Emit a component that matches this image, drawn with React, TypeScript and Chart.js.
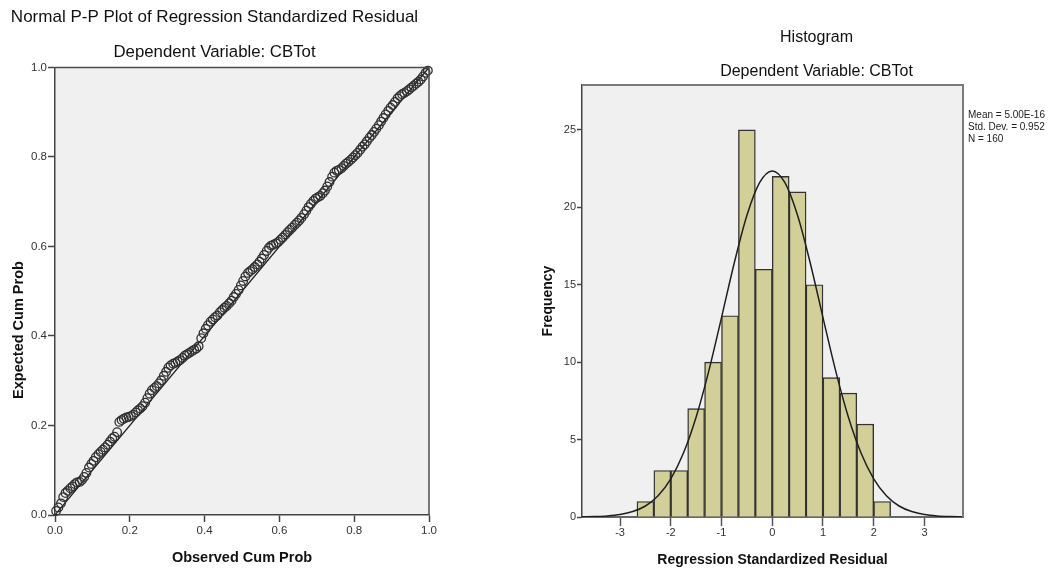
import React, { useEffect, useRef } from "react";
import { Chart, registerables } from "chart.js";

Chart.register(...registerables);

const FONT = '"Liberation Sans", Arial, Helvetica, sans-serif';

// ---------- P-P plot data ----------
const observedCumProb = [
  0.003, 0.009, 0.016, 0.022, 0.028, 0.034, 0.041, 0.047, 0.053, 0.059,
  0.066, 0.072, 0.078, 0.084, 0.091, 0.097, 0.103, 0.109, 0.116, 0.122,
  0.128, 0.134, 0.141, 0.147, 0.153, 0.159, 0.166, 0.172, 0.178, 0.184,
  0.191, 0.197, 0.203, 0.209, 0.216, 0.222, 0.228, 0.234, 0.241, 0.247,
  0.253, 0.259, 0.266, 0.272, 0.278, 0.284, 0.291, 0.297, 0.303, 0.309,
  0.316, 0.322, 0.328, 0.334, 0.341, 0.347, 0.353, 0.359, 0.366, 0.372,
  0.378, 0.384, 0.391, 0.397, 0.403, 0.409, 0.416, 0.422, 0.428, 0.434,
  0.441, 0.447, 0.453, 0.459, 0.466, 0.472, 0.478, 0.484, 0.491, 0.497,
  0.503, 0.509, 0.516, 0.522, 0.528, 0.534, 0.541, 0.547, 0.553, 0.559,
  0.566, 0.572, 0.578, 0.584, 0.591, 0.597, 0.603, 0.609, 0.616, 0.622,
  0.628, 0.634, 0.641, 0.647, 0.653, 0.659, 0.666, 0.672, 0.678, 0.684,
  0.691, 0.697, 0.703, 0.709, 0.716, 0.722, 0.728, 0.734, 0.741, 0.747,
  0.753, 0.759, 0.766, 0.772, 0.778, 0.784, 0.791, 0.797, 0.803, 0.809,
  0.816, 0.822, 0.828, 0.834, 0.841, 0.847, 0.853, 0.859, 0.866, 0.872,
  0.878, 0.884, 0.891, 0.897, 0.903, 0.909, 0.916, 0.922, 0.928, 0.934,
  0.941, 0.947, 0.953, 0.959, 0.966, 0.972, 0.978, 0.984, 0.991, 0.997,
];

const expectedCumProb = [
  0.009, 0.017, 0.026, 0.04, 0.049, 0.054, 0.06, 0.064, 0.069, 0.073,
  0.074, 0.078, 0.085, 0.094, 0.106, 0.114, 0.121, 0.129, 0.136, 0.141,
  0.146, 0.151, 0.157, 0.164, 0.171, 0.175, 0.185, 0.208, 0.212, 0.215,
  0.218, 0.219, 0.221, 0.224, 0.229, 0.234, 0.238, 0.243, 0.251, 0.261,
  0.271, 0.279, 0.284, 0.288, 0.294, 0.301, 0.311, 0.32, 0.329, 0.334,
  0.338, 0.34, 0.343, 0.346, 0.351, 0.356, 0.359, 0.362, 0.366, 0.369,
  0.372, 0.377, 0.395, 0.406, 0.416, 0.424, 0.432, 0.437, 0.442, 0.446,
  0.453, 0.458, 0.463, 0.467, 0.473, 0.479, 0.487, 0.494, 0.503, 0.513,
  0.523, 0.533, 0.541, 0.545, 0.549, 0.554, 0.56, 0.566, 0.573, 0.581,
  0.59, 0.597, 0.602, 0.604, 0.607, 0.61, 0.615, 0.62, 0.626, 0.632,
  0.637, 0.642, 0.648, 0.653, 0.658, 0.664, 0.672, 0.68, 0.688, 0.695,
  0.702, 0.707, 0.71, 0.713, 0.719, 0.725, 0.734, 0.744, 0.756, 0.765,
  0.769, 0.771, 0.775, 0.78, 0.785, 0.789, 0.794, 0.799, 0.804, 0.809,
  0.816, 0.823, 0.828, 0.835, 0.843, 0.849, 0.856, 0.863, 0.871, 0.879,
  0.887, 0.895, 0.903, 0.91, 0.916, 0.923, 0.931, 0.936, 0.94, 0.943,
  0.947, 0.951, 0.955, 0.959, 0.964, 0.968, 0.973, 0.98, 0.988, 0.993,
];

const refLineX = [0, 1];
const refLineY = [0, 1];
const ppTicks = [0, 0.2, 0.4, 0.6, 0.8, 1.0];

// ---------- Histogram data ----------
const binCenters = [
  -2.5, -2.1667, -1.8333, -1.5, -1.1667, -0.8333, -0.5, -0.1667,
  0.1667, 0.5, 0.8333, 1.1667, 1.5, 1.8333, 2.1667,
];
const binCounts = [1, 3, 3, 7, 10, 13, 25, 16, 22, 21, 15, 9, 8, 6, 1];

const curveX = [
  -3.75, -3.5, -3.25, -3, -2.75, -2.5, -2.25, -2, -1.75, -1.5, -1.25, -1,
  -0.75, -0.5, -0.25, 0, 0.25, 0.5, 0.75, 1, 1.25, 1.5, 1.75, 2, 2.25, 2.5,
  2.75, 3, 3.25, 3.5, 3.75,
];
const curveY = [
  0.01, 0.03, 0.07, 0.16, 0.35, 0.71, 1.37, 2.46, 4.13, 6.46, 9.44, 12.88,
  16.39, 19.47, 21.59, 22.35, 21.59, 19.47, 16.39, 12.88, 9.44, 6.46, 4.13,
  2.46, 1.37, 0.71, 0.35, 0.16, 0.07, 0.03, 0.01,
];
const histXTicks = [-3, -2, -1, 0, 1, 2, 3];
const histYTicks = [0, 5, 10, 15, 20, 25];
const statsLines = ["Mean = 5.00E-16", "Std. Dev. = 0.952", "N = 160"];

// ---------- plugins ----------
const framePlugin = {
  id: "frame",
  beforeDraw(chart: any, _a: any, opts: any) {
    const { ctx, chartArea: c } = chart;
    ctx.save();
    ctx.fillStyle = opts.bg || "#f0f0f0";
    ctx.fillRect(c.left, c.top, c.right - c.left, c.bottom - c.top);
    ctx.restore();
  },
  afterDraw(chart: any, _a: any, opts: any) {
    const { ctx, chartArea: c } = chart;
    ctx.save();
    ctx.strokeStyle = opts.color || "#555";
    ctx.lineWidth = opts.width || 1.5;
    ctx.beginPath();
    ctx.moveTo(c.left, c.top);
    ctx.lineTo(c.right, c.top);
    ctx.lineTo(c.right, c.bottom);
    ctx.stroke();
    ctx.restore();
  },
};

const yTitlePlugin = {
  id: "yTitle",
  afterDraw(chart: any, _a: any, opts: any) {
    if (!opts || !opts.text) return;
    const { ctx } = chart;
    ctx.save();
    ctx.translate(opts.x, opts.y);
    ctx.rotate(-Math.PI / 2);
    ctx.font = opts.font;
    ctx.fillStyle = opts.color || "#111";
    ctx.textAlign = "center";
    ctx.textBaseline = "middle";
    ctx.fillText(opts.text, 0, 0);
    ctx.restore();
  },
};

function setTicks(values: number[]) {
  return (scale: any) => {
    scale.ticks = values.map((v) => ({ value: v }));
  };
}

function PPPlot() {
  const ref = useRef<HTMLCanvasElement | null>(null);
  useEffect(() => {
    if (!ref.current) return;
    const pts = observedCumProb.map((x, i) => ({ x, y: expectedCumProb[i] }));
    const line = refLineX.map((x, i) => ({ x, y: refLineY[i] }));
    const chart = new Chart(ref.current, {
      type: "scatter",
      data: {
        datasets: [
          {
            type: "line",
            data: line,
            borderColor: "#1a1a1a",
            borderWidth: 1.2,
            pointRadius: 0,
            fill: false,
            order: 1,
          } as any,
          {
            type: "scatter",
            data: pts,
            pointStyle: "circle",
            pointRadius: 4.3,
            pointBorderWidth: 1.3,
            borderColor: "#303030",
            backgroundColor: "rgba(0,0,0,0)",
            clip: 10,
            order: 0,
          } as any,
        ],
      },
      options: {
        responsive: false,
        animation: false,
        events: [],
        layout: { padding: { left: 0, right: 21, top: 0, bottom: 0 }, autoPadding: false },
        plugins: {
          legend: { display: false },
          tooltip: { enabled: false },
          title: {
            display: true,
            text: "Normal P-P Plot of Regression Standardized Residual",
            color: "#111",
            font: { family: FONT, size: 17, weight: "normal", lineHeight: 1.2 },
            padding: { top: 6.8, bottom: 0 },
          },
          subtitle: {
            display: true,
            text: "Dependent Variable: CBTot",
            color: "#111",
            font: { family: FONT, size: 16.8, weight: "normal", lineHeight: 1.2 },
            padding: { top: 15.2, bottom: 4.9 },
          },
          frame: { bg: "#f0f0f0", color: "#4d4d4d", width: 1.5 },
          yTitle: {
            text: "Expected Cum Prob",
            x: 18.5,
            y: 330,
            font: `bold 14.5px ${FONT}`,
            color: "#111",
          },
        } as any,
        scales: {
          x: {
            type: "linear",
            min: 0,
            max: 1,
            afterBuildTicks: setTicks(ppTicks),
            afterFit: (s: any) => {
              s.height = 58;
            },
            grid: {
              display: true,
              drawOnChartArea: false,
              drawTicks: true,
              tickLength: 7,
              color: "#444",
              tickWidth: 1.5,
            },
            border: { display: true, color: "#444", width: 1.5 },
            ticks: {
              color: "#333",
              padding: 1.6,
              font: { family: FONT, size: 11.5, lineHeight: 1.2 },
              callback: (v: any) => Number(v).toFixed(1),
              maxRotation: 0,
            },
            title: {
              display: true,
              text: "Observed Cum Prob",
              color: "#111",
              font: { family: FONT, size: 14.5, weight: "bold", lineHeight: 1.2 },
              padding: { top: 0, bottom: 6.3 },
            },
          },
          y: {
            type: "linear",
            min: 0,
            max: 1,
            afterBuildTicks: setTicks(ppTicks),
            afterFit: (s: any) => {
              s.width = 55;
            },
            grid: {
              display: true,
              drawOnChartArea: false,
              drawTicks: true,
              tickLength: 7,
              color: "#444",
              tickWidth: 1.5,
            },
            border: { display: true, color: "#444", width: 1.5 },
            ticks: {
              color: "#333",
              padding: 1,
              font: { family: FONT, size: 11.5, lineHeight: 1.2 },
              callback: (v: any) => Number(v).toFixed(1),
            },
            title: { display: false },
          },
        },
      } as any,
      plugins: [framePlugin, yTitlePlugin] as any,
    });
    return () => chart.destroy();
  }, []);
  return (
    <canvas
      ref={ref}
      width={450}
      height={573}
      style={{ position: "absolute", left: 0, top: 0, width: 450, height: 573 }}
    />
  );
}

function Histogram() {
  const ref = useRef<HTMLCanvasElement | null>(null);
  useEffect(() => {
    if (!ref.current) return;
    const bars = binCenters.map((x, i) => ({ x, y: binCounts[i] }));
    const curve = curveX.map((x, i) => ({ x, y: curveY[i] }));
    const chart = new Chart(ref.current, {
      type: "bar",
      data: {
        datasets: [
          {
            type: "line",
            data: curve,
            borderColor: "#1f1f1f",
            borderWidth: 1.5,
            pointRadius: 0,
            fill: false,
            cubicInterpolationMode: "monotone",
            order: 0,
          } as any,
          {
            type: "bar",
            data: bars,
            backgroundColor: "#d3cf98",
            borderColor: "#333333",
            borderWidth: 1.4,
            barPercentage: 1,
            categoryPercentage: 1,
            order: 1,
          } as any,
        ],
      },
      options: {
        responsive: false,
        animation: false,
        events: [],
        layout: { padding: 0, autoPadding: false },
        plugins: {
          legend: { display: false },
          tooltip: { enabled: false },
          title: {
            display: true,
            text: "Histogram",
            color: "#111",
            font: { family: FONT, size: 16, weight: "normal", lineHeight: 1.2 },
            padding: { top: 27.9, bottom: 0 },
          },
          subtitle: {
            display: true,
            text: "Dependent Variable: CBTot",
            color: "#111",
            font: { family: FONT, size: 16, weight: "normal", lineHeight: 1.2 },
            padding: { top: 15, bottom: 3.7 },
          },
          frame: { bg: "#f0f0f0", color: "#7a7a7a", width: 2 },
        } as any,
        scales: {
          x: {
            type: "linear",
            min: -3.75,
            max: 3.76,
            offset: false,
            afterBuildTicks: setTicks(histXTicks),
            afterFit: (s: any) => {
              s.height = 56;
            },
            grid: {
              display: true,
              drawOnChartArea: false,
              drawTicks: true,
              tickLength: 9,
              color: "#555",
              tickWidth: 1.5,
              offset: false,
            },
            border: { display: true, color: "#666", width: 2 },
            ticks: {
              color: "#333",
              padding: 0.5,
              font: { family: FONT, size: 11, lineHeight: 1.2 },
              callback: (v: any) => String(v),
              maxRotation: 0,
            },
            title: {
              display: true,
              text: "Regression Standardized Residual",
              color: "#111",
              font: { family: FONT, size: 14, weight: "bold", lineHeight: 1.2 },
              padding: { top: 0, bottom: 4.6 },
            },
          },
          y: {
            type: "linear",
            min: 0,
            max: 27.9,
            afterBuildTicks: setTicks(histYTicks),
            afterFit: (s: any) => {
              s.width = 52;
            },
            grid: {
              display: true,
              drawOnChartArea: false,
              drawTicks: true,
              tickLength: 5,
              color: "#444",
              tickWidth: 1.5,
            },
            border: { display: true, color: "#444", width: 1.5 },
            ticks: {
              color: "#333",
              padding: 1,
              font: { family: FONT, size: 11, lineHeight: 1.2 },
            },
            title: {
              display: true,
              text: "Frequency",
              color: "#111",
              font: { family: FONT, size: 14, weight: "bold", lineHeight: 1.2 },
              padding: { top: 9.6, bottom: 0 },
            },
          },
          y2: {
            type: "linear",
            position: "right",
            display: true,
            afterFit: (s: any) => {
              s.width = 140;
            },
            grid: { display: false, drawTicks: false },
            border: { display: false },
            ticks: { display: false },
            title: { display: false },
          },
        },
      } as any,
      plugins: [framePlugin] as any,
    });
    return () => chart.destroy();
  }, []);
  return (
    <>
      <canvas
        ref={ref}
        width={573}
        height={573}
        style={{ position: "absolute", left: 530, top: 0, width: 573, height: 573 }}
      />
      <div
        style={{
          position: "absolute",
          left: 968,
          top: 109,
          fontFamily: FONT,
          fontSize: 10,
          lineHeight: "12px",
          color: "#222",
          whiteSpace: "nowrap",
        }}
      >
        {statsLines.map((t) => (
          <div key={t}>{t}</div>
        ))}
      </div>
    </>
  );
}

export default function App() {
  return (
    <div
      style={{
        position: "absolute",
        left: 0,
        top: 0,
        width: 1049,
        height: 573,
        overflow: "hidden",
        background: "#fff",
      }}
    >
      <PPPlot />
      <Histogram />
    </div>
  );
}
